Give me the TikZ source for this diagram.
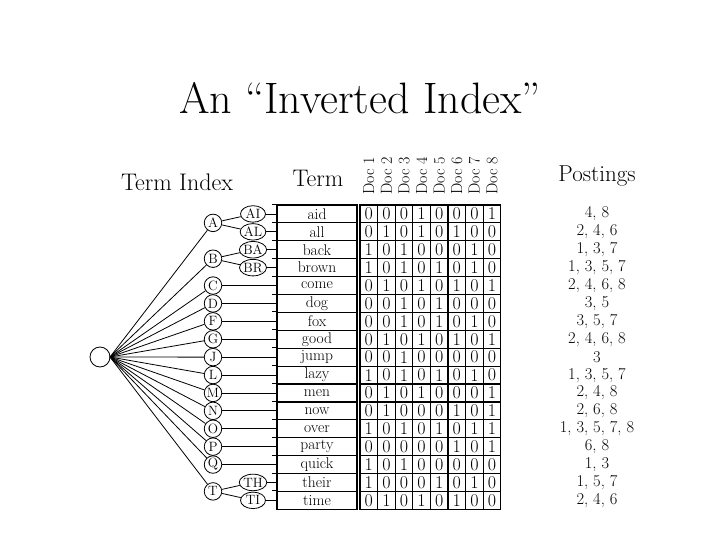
\documentclass[tikz,border=0pt]{standalone}
\usetikzlibrary{shapes.geometric}
\begin{document}
\begin{tikzpicture}[x=1pt,y=-1pt,
  lt/.style={circle,draw,thick,inner sep=0pt,minimum size=17.5pt,font=\fontsize{13.5}{13.5}\selectfont},
  l2/.style={ellipse,draw,thick,inner sep=0pt,minimum width=25pt,minimum height=16.5pt,font=\fontsize{13.5}{13.5}\selectfont},
  cell/.style={draw,very thick,minimum width=17.6pt,minimum height=17.9pt,inner sep=0pt,font=\fontsize{18}{18}\selectfont},
  tcell/.style={draw,very thick,minimum width=80pt,minimum height=17.9pt,inner sep=0pt,font=\fontsize{15.5}{15.5}\selectfont},
  post/.style={font=\fontsize{16.5}{16.5}\selectfont},
  edge/.style={thick}]
\useasboundingbox (0,0) rectangle (720,540);
\node[font=\fontsize{44}{44}\selectfont] (title) at (360,98) {An ``Inverted Index''};
\node[font=\fontsize{24}{24}\selectfont] (ti) at (177,182) {Term Index};
\node[font=\fontsize{24}{24}\selectfont] (th) at (318,178) {Term};
\node[font=\fontsize{23}{23}\selectfont] (ph) at (597,176) {Postings};
\def\terms{aid,all,back,brown,come,dog,fox,good,jump,lazy,men,now,over,party,quick,their,time}
\def\posts{{4, 8},{2, 4, 6},{1, 3, 7},{1, 3, 5, 7},{2, 4, 6, 8},{3, 5},{3, 5, 7},{2, 4, 6, 8},{3},{1, 3, 5, 7},{2, 4, 8},{2, 6, 8},{1, 3, 5, 7, 8},{6, 8},{1, 3},{1, 5, 7},{2, 4, 6}}
\foreach \t [count=\i from 0] in \terms {
  \node[tcell] (t\i) at (317,{205+17.9*(\i+0.5)}) {\t};
  \draw[thick] (t\i.north west) -- ++(-4,0);
}
\foreach \p [count=\i from 0] in \posts {
  \node[post,inner sep=0pt] (p\i) at (597,{205+17.9*(\i+0.5)}) {\p};
}
\foreach \row [count=\i from 0] in {{0,0,0,1,0,0,0,1},{0,1,0,1,0,1,0,0},{1,0,1,0,0,0,1,0},{1,0,1,0,1,0,1,0},{0,1,0,1,0,1,0,1},{0,0,1,0,1,0,0,0},{0,0,1,0,1,0,1,0},{0,1,0,1,0,1,0,1},{0,0,1,0,0,0,0,0},{1,0,1,0,1,0,1,0},{0,1,0,1,0,0,0,1},{0,1,0,0,0,1,0,1},{1,0,1,0,1,0,1,1},{0,0,0,0,0,1,0,1},{1,0,1,0,0,0,0,0},{1,0,0,0,1,0,1,0},{0,1,0,1,0,1,0,0}} {
  \foreach \d [count=\k from 0] in \row {
    \node[cell] (c\i-\k) at ({368.8+17.6*\k},{205+17.9*(\i+0.5)}) {\d};
  }
}
\foreach \k in {1,...,8} {
  \node[rotate=90,anchor=west,font=\fontsize{16}{16}\selectfont,inner sep=0pt] (d\k) at ({368.8+17.6*(\k-1)},195) {Doc \k};
}
\node[circle,draw,thick,minimum size=20pt,inner sep=0pt] (root) at (100,357) {};
\coordinate (hub) at (110,357);
\def\ry#1{205+17.9*(#1+0.5)}
\node[lt] (A) at (213,{205+17.9*1}) {A};
\node[lt] (B) at (213,{205+17.9*3}) {B};
\node[lt] (T) at (213,{205+17.9*16}) {T};
\foreach \L/\r in {C/4,D/5,F/6,G/7,J/8,L/9,M/10,N/11,O/12,P/13,Q/14} {
  \node[lt] (\L) at (213,{\ry{\r}}) {\L};
  \draw[edge] (\L) -- (t\r.west);
}
\foreach \S/\P/\r in {AI/A/0,AL/A/1,BA/B/2,BR/B/3,TH/T/15,TI/T/16} {
  \node[l2] (\S) at (253,{\ry{\r}}) {\S};
  \draw[edge] (\P) -- (\S);
  \draw[edge] (\S) -- (t\r.west);
}
\foreach \L in {A,B,C,D,F,G,J,L,M,N,O,P,Q,T} \draw[edge] (hub) -- (\L);
\end{tikzpicture}
\end{document}
